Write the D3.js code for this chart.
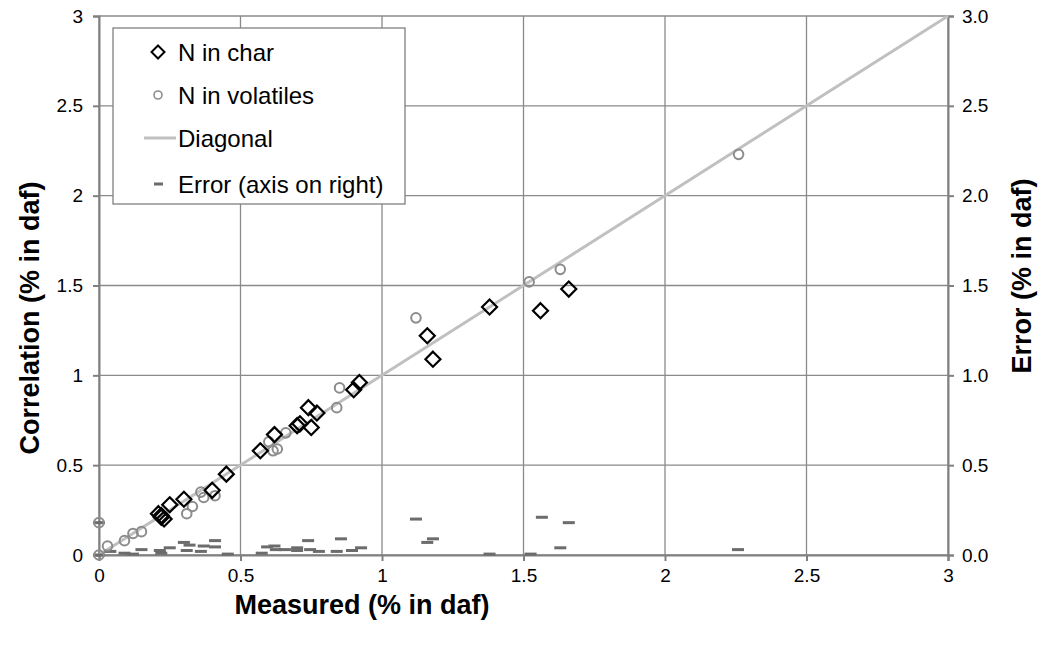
<!DOCTYPE html>
<html>
<head>
  <meta charset="utf-8">
  <title>N correlation</title>
  <style>
    body {margin: 0; background: #fff;}
    svg  {font-family: "Liberation Sans", Arial, sans-serif;}
  </style>
</head>
<body>
  <script src="https://cdn.jsdelivr.net/npm/d3@7"></script>
  <div id="scene"></div>
  <script>
    // N in char: [measured, correlation]
    var charPts = [
      [0.21, 0.23], [0.22, 0.21], [0.23, 0.20], [0.22, 0.22], [0.25, 0.28], [0.30, 0.31],
      [0.40, 0.36], [0.45, 0.45], [0.57, 0.58], [0.62, 0.67], [0.70, 0.72], [0.71, 0.73],
      [0.74, 0.82], [0.77, 0.79], [0.75, 0.71], [0.90, 0.92], [0.92, 0.96], [1.16, 1.22],
      [1.18, 1.09], [1.38, 1.38], [1.56, 1.36], [1.66, 1.48]
    ];
    // N in volatiles: [measured, correlation]
    var volPts = [
      [0.00, 0.18], [0.00, 0.00], [0.03, 0.05], [0.09, 0.08], [0.12, 0.12], [0.15, 0.13],
      [0.31, 0.23], [0.33, 0.27], [0.36, 0.35], [0.37, 0.32], [0.41, 0.33], [0.60, 0.63],
      [0.615, 0.58], [0.63, 0.59], [0.66, 0.68], [0.84, 0.82], [0.85, 0.93], [1.12, 1.32],
      [1.52, 1.52], [1.63, 1.59], [2.26, 2.23]
    ];
    // Error (right axis): [measured, error]
    var errPts = [
      [0.00, 0.18], [0.00, 0.00], [0.04, 0.02], [0.09, 0.01], [0.12, 0.005], [0.15, 0.03],
      [0.215, 0.025], [0.22, 0.01], [0.25, 0.04], [0.30, 0.07], [0.32, 0.055], [0.31, 0.025],
      [0.36, 0.02], [0.37, 0.05], [0.41, 0.08], [0.41, 0.045], [0.455, 0.005], [0.575, 0.01],
      [0.594, 0.045], [0.62, 0.05], [0.625, 0.03], [0.657, 0.03], [0.70, 0.04], [0.70, 0.025],
      [0.739, 0.08], [0.746, 0.03], [0.777, 0.02], [0.855, 0.09], [0.84, 0.02], [0.894, 0.025],
      [0.926, 0.04], [1.12, 0.20], [1.16, 0.07], [1.18, 0.09], [1.38, 0.005], [1.525, 0.005],
      [1.565, 0.21], [1.63, 0.04], [1.66, 0.18], [2.258, 0.03]
    ];
    var diagonal = [[0, 0], [3, 3]];
    var xTicks = [0, 0.5, 1, 1.5, 2, 2.5, 3];
    var yTicks = [0, 0.5, 1, 1.5, 2, 2.5, 3];
    var legendLabels = ["N in char", "N in volatiles", "Diagonal", "Error (axis on right)"];

    var W = 1050, H = 648;
    var m = {left: 99, right: 102, top: 16, bottom: 93};

    var svg = d3.select("#scene").append("svg")
      .attr("width", W).attr("height", H);

    var x = d3.scaleLinear().domain([0, 3]).range([m.left, W - m.right]);
    var y = d3.scaleLinear().domain([0, 3]).range([H - m.bottom, m.top]);
    var y2 = d3.scaleLinear().domain([0, 3]).range([H - m.bottom, m.top]);

    var gridColor = "#8a8a8a";

    // grid
    svg.append("g").selectAll("line").data(yTicks).join("line")
      .attr("x1", x(0)).attr("x2", x(3))
      .attr("y1", d => y(d)).attr("y2", d => y(d))
      .attr("stroke", gridColor).attr("stroke-width", 1.3);
    svg.append("g").selectAll("line").data(xTicks).join("line")
      .attr("x1", d => x(d)).attr("x2", d => x(d))
      .attr("y1", y(0)).attr("y2", y(3))
      .attr("stroke", gridColor).attr("stroke-width", 1.3);

    // axes
    var axL = d3.axisLeft(y).tickValues(yTicks).tickSize(6).tickPadding(10).tickFormat(d3.format("~g"));
    var axR = d3.axisRight(y2).tickValues(yTicks).tickSize(6).tickPadding(8).tickFormat(d3.format(".1f"));
    var axB = d3.axisBottom(x).tickValues(xTicks).tickSize(6).tickPadding(8).tickFormat(d3.format("~g"));

    function styleAxis(g) {
      g.attr("font-size", null).attr("font-family", null);
      g.selectAll("path, line").attr("stroke", "#808080").attr("stroke-width", 2);
      g.selectAll("text").attr("fill", "#000").style("font-size", "19px");
    }
    svg.append("g").attr("transform", "translate(" + x(0) + ",0)").call(axL).call(styleAxis);
    svg.append("g").attr("transform", "translate(" + x(3) + ",0)").call(axR).call(styleAxis);
    svg.append("g").attr("transform", "translate(0," + y(0) + ")").call(axB).call(styleAxis);

    // diagonal
    var line = d3.line().x(d => x(d[0])).y(d => y(d[1]));
    svg.append("path").datum(diagonal).attr("d", line)
      .attr("fill", "none").attr("stroke", "#c0c0c0").attr("stroke-width", 3);

    // error dashes
    svg.append("g").selectAll("rect").data(errPts).join("rect")
      .attr("x", d => x(d[0]) - 6).attr("y", d => y2(d[1]) - 1.5)
      .attr("width", 12).attr("height", 3)
      .attr("fill", "#6c6c6c");

    // volatiles circles
    svg.append("g").selectAll("circle").data(volPts).join("circle")
      .attr("cx", d => x(d[0])).attr("cy", d => y(d[1])).attr("r", 4.8)
      .attr("fill", "none").attr("stroke", "#8c8c8c").attr("stroke-width", 2);

    // char diamonds
    var diamond = "M0,-7.5L7.5,0L0,7.5L-7.5,0Z";
    svg.append("g").selectAll("path").data(charPts).join("path")
      .attr("d", diamond)
      .attr("transform", d => "translate(" + x(d[0]) + "," + y(d[1]) + ")")
      .attr("fill", "none").attr("stroke", "#000").attr("stroke-width", 2.2);

    // axis titles
    svg.append("text").attr("x", 362).attr("y", 614)
      .attr("text-anchor", "middle").style("font-size", "27px").style("font-weight", "bold")
      .text("Measured (% in daf)");
    svg.append("text").attr("transform", "translate(39,318) rotate(-90)")
      .attr("text-anchor", "middle").style("font-size", "27px").style("font-weight", "bold")
      .text("Correlation (% in daf)");
    svg.append("text").attr("transform", "translate(1031,276) rotate(-90)")
      .attr("text-anchor", "middle").style("font-size", "27px").style("font-weight", "bold")
      .text("Error (% in daf)");

    // legend
    var lg = svg.append("g").attr("transform", "translate(113,28)");
    lg.append("rect").attr("width", 292).attr("height", 176)
      .attr("fill", "#fff").attr("stroke", "#808080").attr("stroke-width", 1.3);
    var rows = lg.selectAll("g").data(legendLabels).join("g")
      .attr("transform", (d, i) => "translate(0," + [24, 67, 110, 156][i] + ")");
    rows.append("text").attr("x", 65).attr("y", 9)
      .style("font-size", "24px").attr("fill", "#000")
      .text(d => d);
    rows.filter((d, i) => i === 0).append("path")
      .attr("d", "M0,-6.5L6.5,0L0,6.5L-6.5,0Z").attr("transform", "translate(45,0)")
      .attr("fill", "none").attr("stroke", "#000").attr("stroke-width", 2);
    rows.filter((d, i) => i === 1).append("circle")
      .attr("cx", 45).attr("r", 4)
      .attr("fill", "none").attr("stroke", "#8c8c8c").attr("stroke-width", 1.6);
    rows.filter((d, i) => i === 2).append("line")
      .attr("x1", 31).attr("x2", 63)
      .attr("stroke", "#c0c0c0").attr("stroke-width", 3);
    rows.filter((d, i) => i === 3).append("rect")
      .attr("x", 41).attr("y", -1.5).attr("width", 9).attr("height", 3)
      .attr("fill", "#6c6c6c");
  </script>
</body>
</html>
